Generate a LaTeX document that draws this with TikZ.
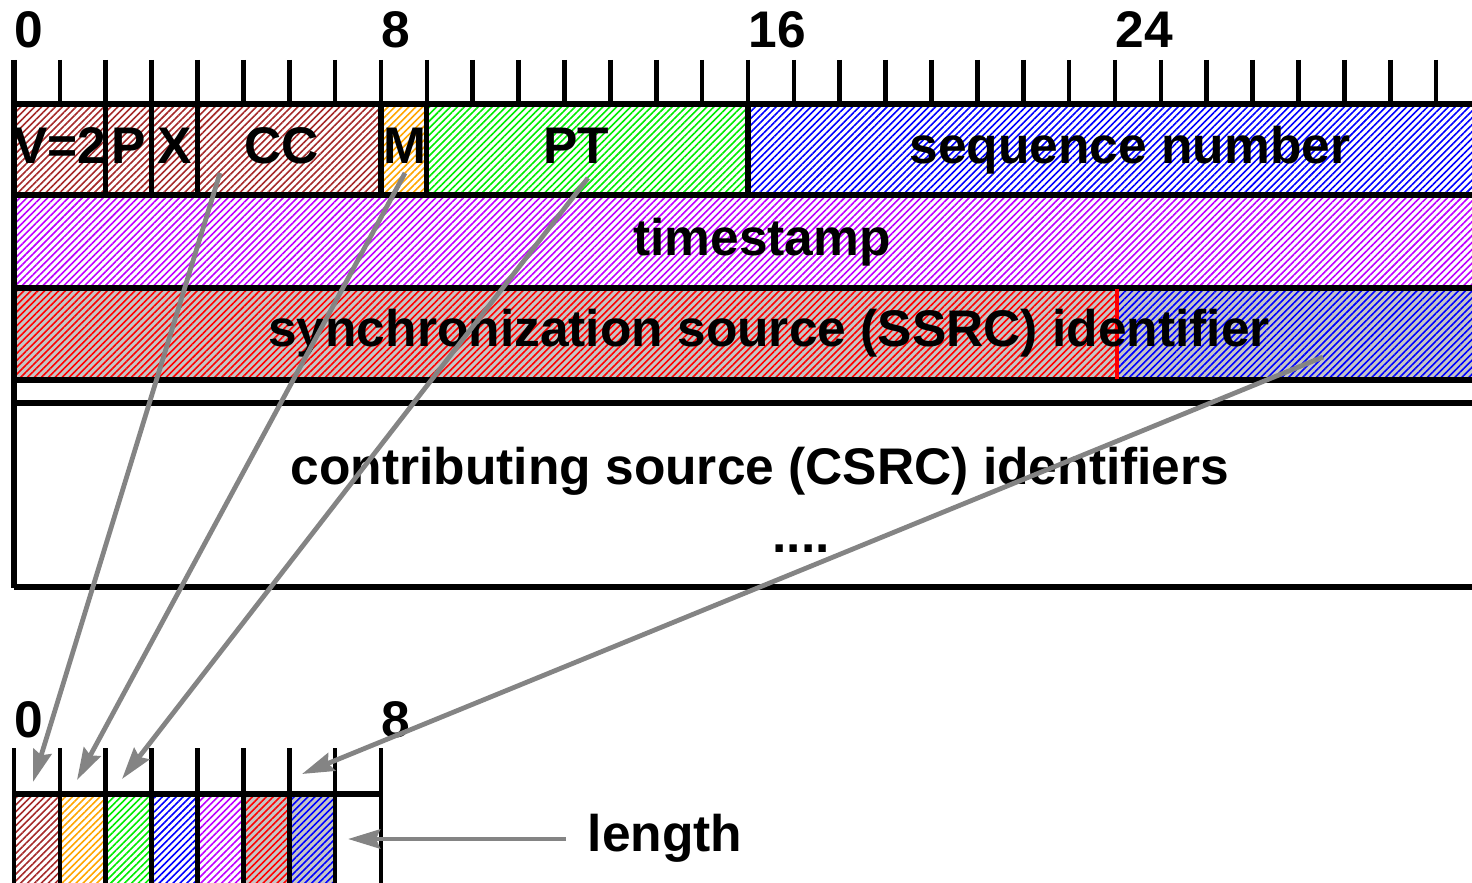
\documentclass[tikz,border=0pt]{standalone}
\usepackage{fontspec}
\setmainfont{Liberation Sans}
\usetikzlibrary{patterns.meta,arrows.meta}
\definecolor{hbrown}{RGB}{165,42,42}
\definecolor{horange}{RGB}{255,165,0}
\definecolor{hgreen}{RGB}{0,235,0}
\definecolor{hblue}{RGB}{0,0,255}
\definecolor{hpurple}{RGB}{190,0,255}
\definecolor{hred}{RGB}{255,0,0}
\definecolor{ssrcgray}{RGB}{198,198,198}
\definecolor{arrowgray}{RGB}{132,132,132}
\begin{document}
\begin{tikzpicture}[x=0.5pt,y=-0.5pt,
  hatch/.style={pattern={Lines[angle=45,distance=2.45pt,line width=0.8pt]},pattern color=#1},
  frame/.style={line width=2.6pt,black},
  tickline/.style={line width=2.3pt,black},
  lbl/.style={font=\fontsize{25.75pt}{30pt}\selectfont\bfseries, inner sep=0pt},
  conn/.style={line width=2.4pt, arrowgray, -{Stealth[length=16pt,width=9.5pt,inset=2pt]}},
]
\useasboundingbox (0,0) rectangle (1472,883);
\clip (0,0) rectangle (1472,883);
% ---------- header fills ----------
\fill[hatch=hbrown]  (14,104) rectangle (381,195);
\fill[hatch=horange] (381,104) rectangle (427,195);
\fill[hatch=hgreen]  (427,104) rectangle (748,195);
\fill[hatch=hblue]   (748,104) rectangle (1490,195);
\fill[hatch=hpurple] (14,195) rectangle (1490,288);
\fill[ssrcgray] (14,288) rectangle (1490,380);
\fill[hatch=hred]  (14,288) rectangle (1117,380);
\fill[hatch=hblue] (1117,288) rectangle (1490,380);
% ---------- header ticks ----------
\foreach \i in {0,...,32} \draw[tickline] ({14+45.875*\i},60) -- ({14+45.875*\i},104);
% ---------- header frame ----------
\foreach \yy in {104,195,288,380,403,587} \draw[frame] (14,\yy) -- (1490,\yy);
\draw[frame] (14,60) -- (14,588);
\foreach \i in {2,3,4,8,9,16} \draw[frame] ({14+45.875*\i},104) -- ({14+45.875*\i},195);
\draw[line width=1.7pt,hred] (1117,289) -- (1117,379);
% ---------- header labels ----------
\node[lbl,anchor=base west] (n0)  at (14,48)  {0};
\node[lbl,anchor=base west] (n8)  at (381,48) {8};
\node[lbl,anchor=base west] (n16) at (748,48) {16};
\node[lbl,anchor=base west] (n24) at (1115,48) {24};
\node[lbl,anchor=base] (fv)   at (60,163)  {V=2};
\node[lbl,anchor=base] (fp)   at (129,163) {P};
\node[lbl,anchor=base] (fx)   at (175,163) {X};
\node[lbl,anchor=base] (fcc)  at (282,163) {CC};
\node[lbl,anchor=base] (fm)   at (405,163) {M};
\node[lbl,anchor=base] (fpt)  at (576,163) {PT};
\node[lbl,anchor=base] (fseq) at (1130,163) {sequence number};
\node[lbl,anchor=base] (fts)  at (762,255) {timestamp};
\node[lbl,anchor=base] (fssrc) at (769,346) {synchronization source (SSRC) identifier};
\node[lbl,anchor=base] (fcsrc) at (760,484) {contributing source (CSRC) identifiers};
\node[lbl,anchor=base] (fdots) at (801,552) {....};
% ---------- small length byte ----------
\fill[hatch=hbrown]  (14,794) rectangle (60,890);
\fill[hatch=horange] (60,794) rectangle (106,890);
\fill[hatch=hgreen]  (106,794) rectangle (152,890);
\fill[hatch=hblue]   (152,794) rectangle (198,890);
\fill[hatch=hpurple] (198,794) rectangle (243,890);
\fill[ssrcgray] (243,794) rectangle (335,890);
\fill[hatch=hred]  (243,794) rectangle (289,890);
\fill[hatch=hblue] (289,794) rectangle (335,890);
\foreach \i in {0,...,8} \draw[tickline] ({14+45.875*\i},748) -- ({14+45.875*\i},890);
\draw[frame] (14,794) -- (382,794);
\node[lbl,anchor=base west] (m0) at (14,737)  {0};
\node[lbl,anchor=base west] (m8) at (381,737) {8};
\node[lbl,anchor=base] (flen) at (665,851) {length};
% ---------- connectors ----------
\coordinate (sCC)   at (220,173);
\coordinate (sM)    at (405,173);
\coordinate (sPT)   at (588,178);
\coordinate (sSSRC) at (1323,357);
\coordinate (sLen)  at (566,839);
\coordinate (tB0) at (33,782);
\coordinate (tB1) at (77,780);
\coordinate (tB2) at (122,779);
\coordinate (tB6) at (302,774);
\coordinate (tB7) at (348,839);
\draw[conn] (sCC) -- (tB0);
\draw[conn] (sM) -- (tB1);
\draw[conn] (sPT) -- (tB2);
\draw[conn] (sSSRC) -- (tB6);
\draw[conn] (sLen) -- (tB7);
\end{tikzpicture}
\end{document}
